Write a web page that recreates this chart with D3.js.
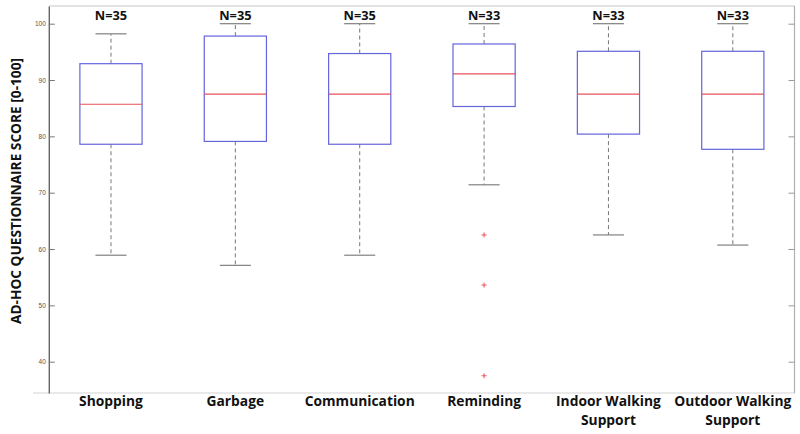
<!DOCTYPE html>
<html>
<head>
<meta charset="utf-8">
<script src="https://cdn.jsdelivr.net/npm/d3@7"></script>
<style>
  body { margin: 0; background: #fff; }
  text { font-family: "Open Sans", "DejaVu Sans", sans-serif; }
</style>
</head>
<body>
<script>
// chart data
var categories = ["Shopping", "Garbage", "Communication", "Reminding", "Indoor Walking|Support", "Outdoor Walking|Support"];
var counts = [35, 35, 35, 33, 33, 33];
var lowerWhisker = [58.9, 57.1, 58.9, 71.4, 62.5, 60.7];
var q1 = [78.6, 79.1, 78.6, 85.3, 80.4, 77.7];
var medians = [85.7, 87.5, 87.5, 91.1, 87.5, 87.5];
var q3 = [92.9, 97.8, 94.7, 96.4, 95.1, 95.1];
var upperWhisker = [98.2, 100, 100, 100, 100, 100];
var outliers = [[], [], [], [62.5, 53.6, 37.5], [], []];
var yTicks = [40, 50, 60, 70, 80, 90, 100];

var width = 800, height = 434;
var plotLeft = 48.8, plotRight = 795, plotTop = 6, plotBottom = 393;

var svg = d3.select("body").append("svg")
  .attr("width", width)
  .attr("height", height);

var x = d3.scaleLinear().domain([0.5, 6.5]).range([plotLeft, plotRight]);
var y = d3.scaleLinear().domain([34.44, 103.14]).range([plotBottom, plotTop]);

var boxHalf = x(1.25) - x(1);      // box width 0.5
var capHalf = x(1.125) - x(1);     // cap width 0.25

// frame
svg.append("line").attr("x1", plotLeft).attr("x2", plotRight).attr("y1", plotTop).attr("y2", plotTop)
  .attr("stroke", "#c8c8c8").attr("stroke-width", 1.2);
svg.append("line").attr("x1", 33).attr("x2", plotRight).attr("y1", plotBottom).attr("y2", plotBottom)
  .attr("stroke", "#d4d4d4").attr("stroke-width", 1.2);
svg.append("line").attr("x1", plotRight - 0.5).attr("x2", plotRight - 0.5).attr("y1", plotTop).attr("y2", plotBottom)
  .attr("stroke", "#b0b0b0").attr("stroke-width", 1.2);

// left axis with inward ticks
var yAxis = d3.axisLeft(y).tickValues(yTicks).tickSizeInner(-6).tickSizeOuter(0).tickPadding(4);
var gy = svg.append("g").attr("transform", "translate(" + plotLeft + ",0)").call(yAxis);
gy.select(".domain").attr("stroke", "#666").attr("stroke-width", 1.4);
gy.selectAll(".tick line").attr("stroke", "#777");
gy.selectAll(".tick text").attr("fill", "#555").style("font-size", "6.5px")
  .style("font-family", "'Liberation Sans', Arial, sans-serif").attr("x", -3);

// right side ticks
var yRight = d3.axisRight(y).tickValues(yTicks).tickSizeInner(-6).tickSizeOuter(0).tickFormat("");
var gr = svg.append("g").attr("transform", "translate(" + (plotRight - 0.5) + ",0)").call(yRight);
gr.select(".domain").remove();
gr.selectAll(".tick line").attr("stroke", "#999");

var idx = d3.range(categories.length);

var boxes = svg.append("g").selectAll("g").data(idx).enter().append("g");

// whiskers (dashed)
boxes.append("line")
  .attr("x1", i => x(i + 1)).attr("x2", i => x(i + 1))
  .attr("y1", i => y(q3[i])).attr("y2", i => y(upperWhisker[i]))
  .attr("stroke", "#777").attr("stroke-width", 1).attr("stroke-dasharray", "4,3");
boxes.append("line")
  .attr("x1", i => x(i + 1)).attr("x2", i => x(i + 1))
  .attr("y1", i => y(q1[i])).attr("y2", i => y(lowerWhisker[i]))
  .attr("stroke", "#777").attr("stroke-width", 1).attr("stroke-dasharray", "4,3");

// caps
boxes.append("line")
  .attr("x1", i => x(i + 1) - capHalf).attr("x2", i => x(i + 1) + capHalf)
  .attr("y1", i => y(upperWhisker[i])).attr("y2", i => y(upperWhisker[i]))
  .attr("stroke", "#808080").attr("stroke-width", 1.2);
boxes.append("line")
  .attr("x1", i => x(i + 1) - capHalf).attr("x2", i => x(i + 1) + capHalf)
  .attr("y1", i => y(lowerWhisker[i])).attr("y2", i => y(lowerWhisker[i]))
  .attr("stroke", "#808080").attr("stroke-width", 1.2);

// boxes
boxes.append("rect")
  .attr("x", i => x(i + 1) - boxHalf)
  .attr("width", boxHalf * 2)
  .attr("y", i => y(q3[i]))
  .attr("height", i => y(q1[i]) - y(q3[i]))
  .attr("fill", "none").attr("stroke", "#6464dc").attr("stroke-width", 1.2);

// medians
boxes.append("line")
  .attr("x1", i => x(i + 1) - boxHalf).attr("x2", i => x(i + 1) + boxHalf)
  .attr("y1", i => y(medians[i])).attr("y2", i => y(medians[i]))
  .attr("stroke", "#e8505a").attr("stroke-width", 1.2);

// outliers as red plus signs
idx.forEach(function(i) {
  outliers[i].forEach(function(v) {
    var cx = x(i + 1), cy = y(v);
    svg.append("path")
      .attr("d", "M" + (cx - 2.5) + "," + cy + "H" + (cx + 2.5) + "M" + cx + "," + (cy - 2.5) + "V" + (cy + 2.5))
      .attr("stroke", "#e8505a").attr("stroke-width", 1);
  });
});

// N labels
svg.append("g").selectAll("text").data(idx).enter().append("text")
  .attr("x", i => x(i + 1)).attr("y", 20)
  .attr("text-anchor", "middle")
  .style("font-size", "12.8px").style("font-weight", "bold").attr("fill", "#111")
  .text(i => "N=" + counts[i]);

// category labels, one text element per line
var catLines = [];
idx.forEach(function(i) {
  categories[i].split("|").forEach(function(l, k) { catLines.push({ i: i, k: k, label: l }); });
});
svg.append("g").selectAll("text").data(catLines).enter().append("text")
  .attr("x", d => x(d.i + 1)).attr("y", d => 406 + d.k * 18.8)
  .attr("text-anchor", "middle")
  .style("font-size", "13.8px").style("font-weight", "bold").attr("fill", "#111")
  .text(d => d.label);

// y title
svg.append("text")
  .attr("transform", "translate(21,191) rotate(-90)")
  .attr("text-anchor", "middle")
  .style("font-size", "13.7px").style("font-weight", "bold").attr("fill", "#111")
  .text("AD-HOC QUESTIONNAIRE SCORE [0-100]");
</script>
</body>
</html>
